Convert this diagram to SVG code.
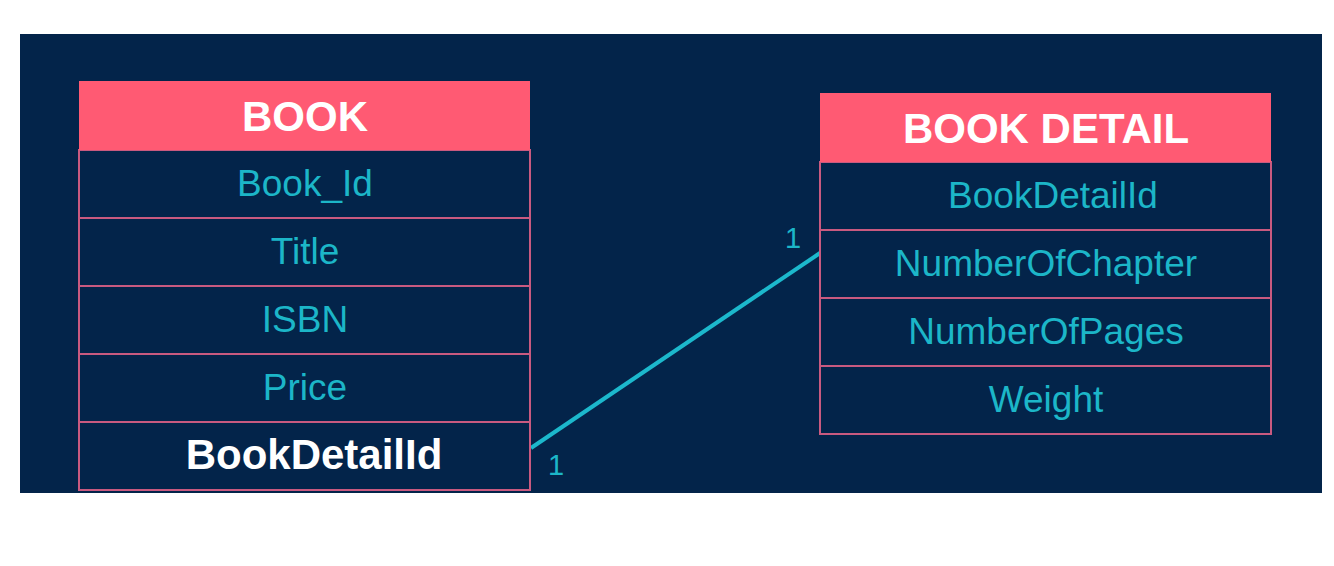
<svg xmlns="http://www.w3.org/2000/svg" width="1334" height="566" viewBox="0 0 1334 566">
<style>
.hdr{fill:#ff5a73}
.row{fill:#03244a;stroke:#c95a80;stroke-width:2}
.ht{font-family:"Liberation Sans",Arial,sans-serif;font-weight:bold;font-size:42px;fill:#ffffff;text-anchor:middle}
.rt{font-family:"Liberation Sans",Arial,sans-serif;font-size:37px;fill:#1cb6c8;text-anchor:middle}
.bt{font-family:"Liberation Sans",Arial,sans-serif;font-weight:bold;font-size:42px;fill:#ffffff;text-anchor:middle}
.lbl{font-family:"Liberation Sans",Arial,sans-serif;font-size:29px;fill:#1cb6c8;text-anchor:middle}
</style>
<rect x="0" y="0" width="1334" height="566" fill="#ffffff"/>
<rect x="20" y="34" width="1302" height="459" fill="#03244a"/>
<g id="connectors">
<line x1="531" y1="448" x2="820" y2="253" stroke="#1cb8cc" stroke-width="4"/>
<text class="lbl" x="793" y="248">1</text>
<text class="lbl" x="556" y="475">1</text>
</g>
<g id="book">
<rect class="row" x="79" y="150" width="451" height="68"/>
<rect class="row" x="79" y="218" width="451" height="68"/>
<rect class="row" x="79" y="286" width="451" height="68"/>
<rect class="row" x="79" y="354" width="451" height="68"/>
<rect class="row" x="79" y="422" width="451" height="68"/>
<rect class="hdr" x="79" y="81" width="451" height="69"/>
<text class="ht" x="305" y="131">BOOK</text>
<text class="rt" x="305" y="196">Book_Id</text>
<text class="rt" x="305" y="264">Title</text>
<text class="rt" x="305" y="332">ISBN</text>
<text class="rt" x="305" y="400">Price</text>
<text class="bt" x="314" y="469">BookDetailId</text>
</g>
<g id="bookdetail">
<rect class="row" x="820" y="162" width="451" height="68"/>
<rect class="row" x="820" y="230" width="451" height="68"/>
<rect class="row" x="820" y="298" width="451" height="68"/>
<rect class="row" x="820" y="366" width="451" height="68"/>
<rect class="hdr" x="820" y="93" width="451" height="69"/>
<text class="ht" x="1046" y="143">BOOK DETAIL</text>
<text class="rt" x="1053" y="208">BookDetailId</text>
<text class="rt" x="1046" y="276">NumberOfChapter</text>
<text class="rt" x="1046" y="344">NumberOfPages</text>
<text class="rt" x="1046" y="412">Weight</text>
</g>
</svg>
